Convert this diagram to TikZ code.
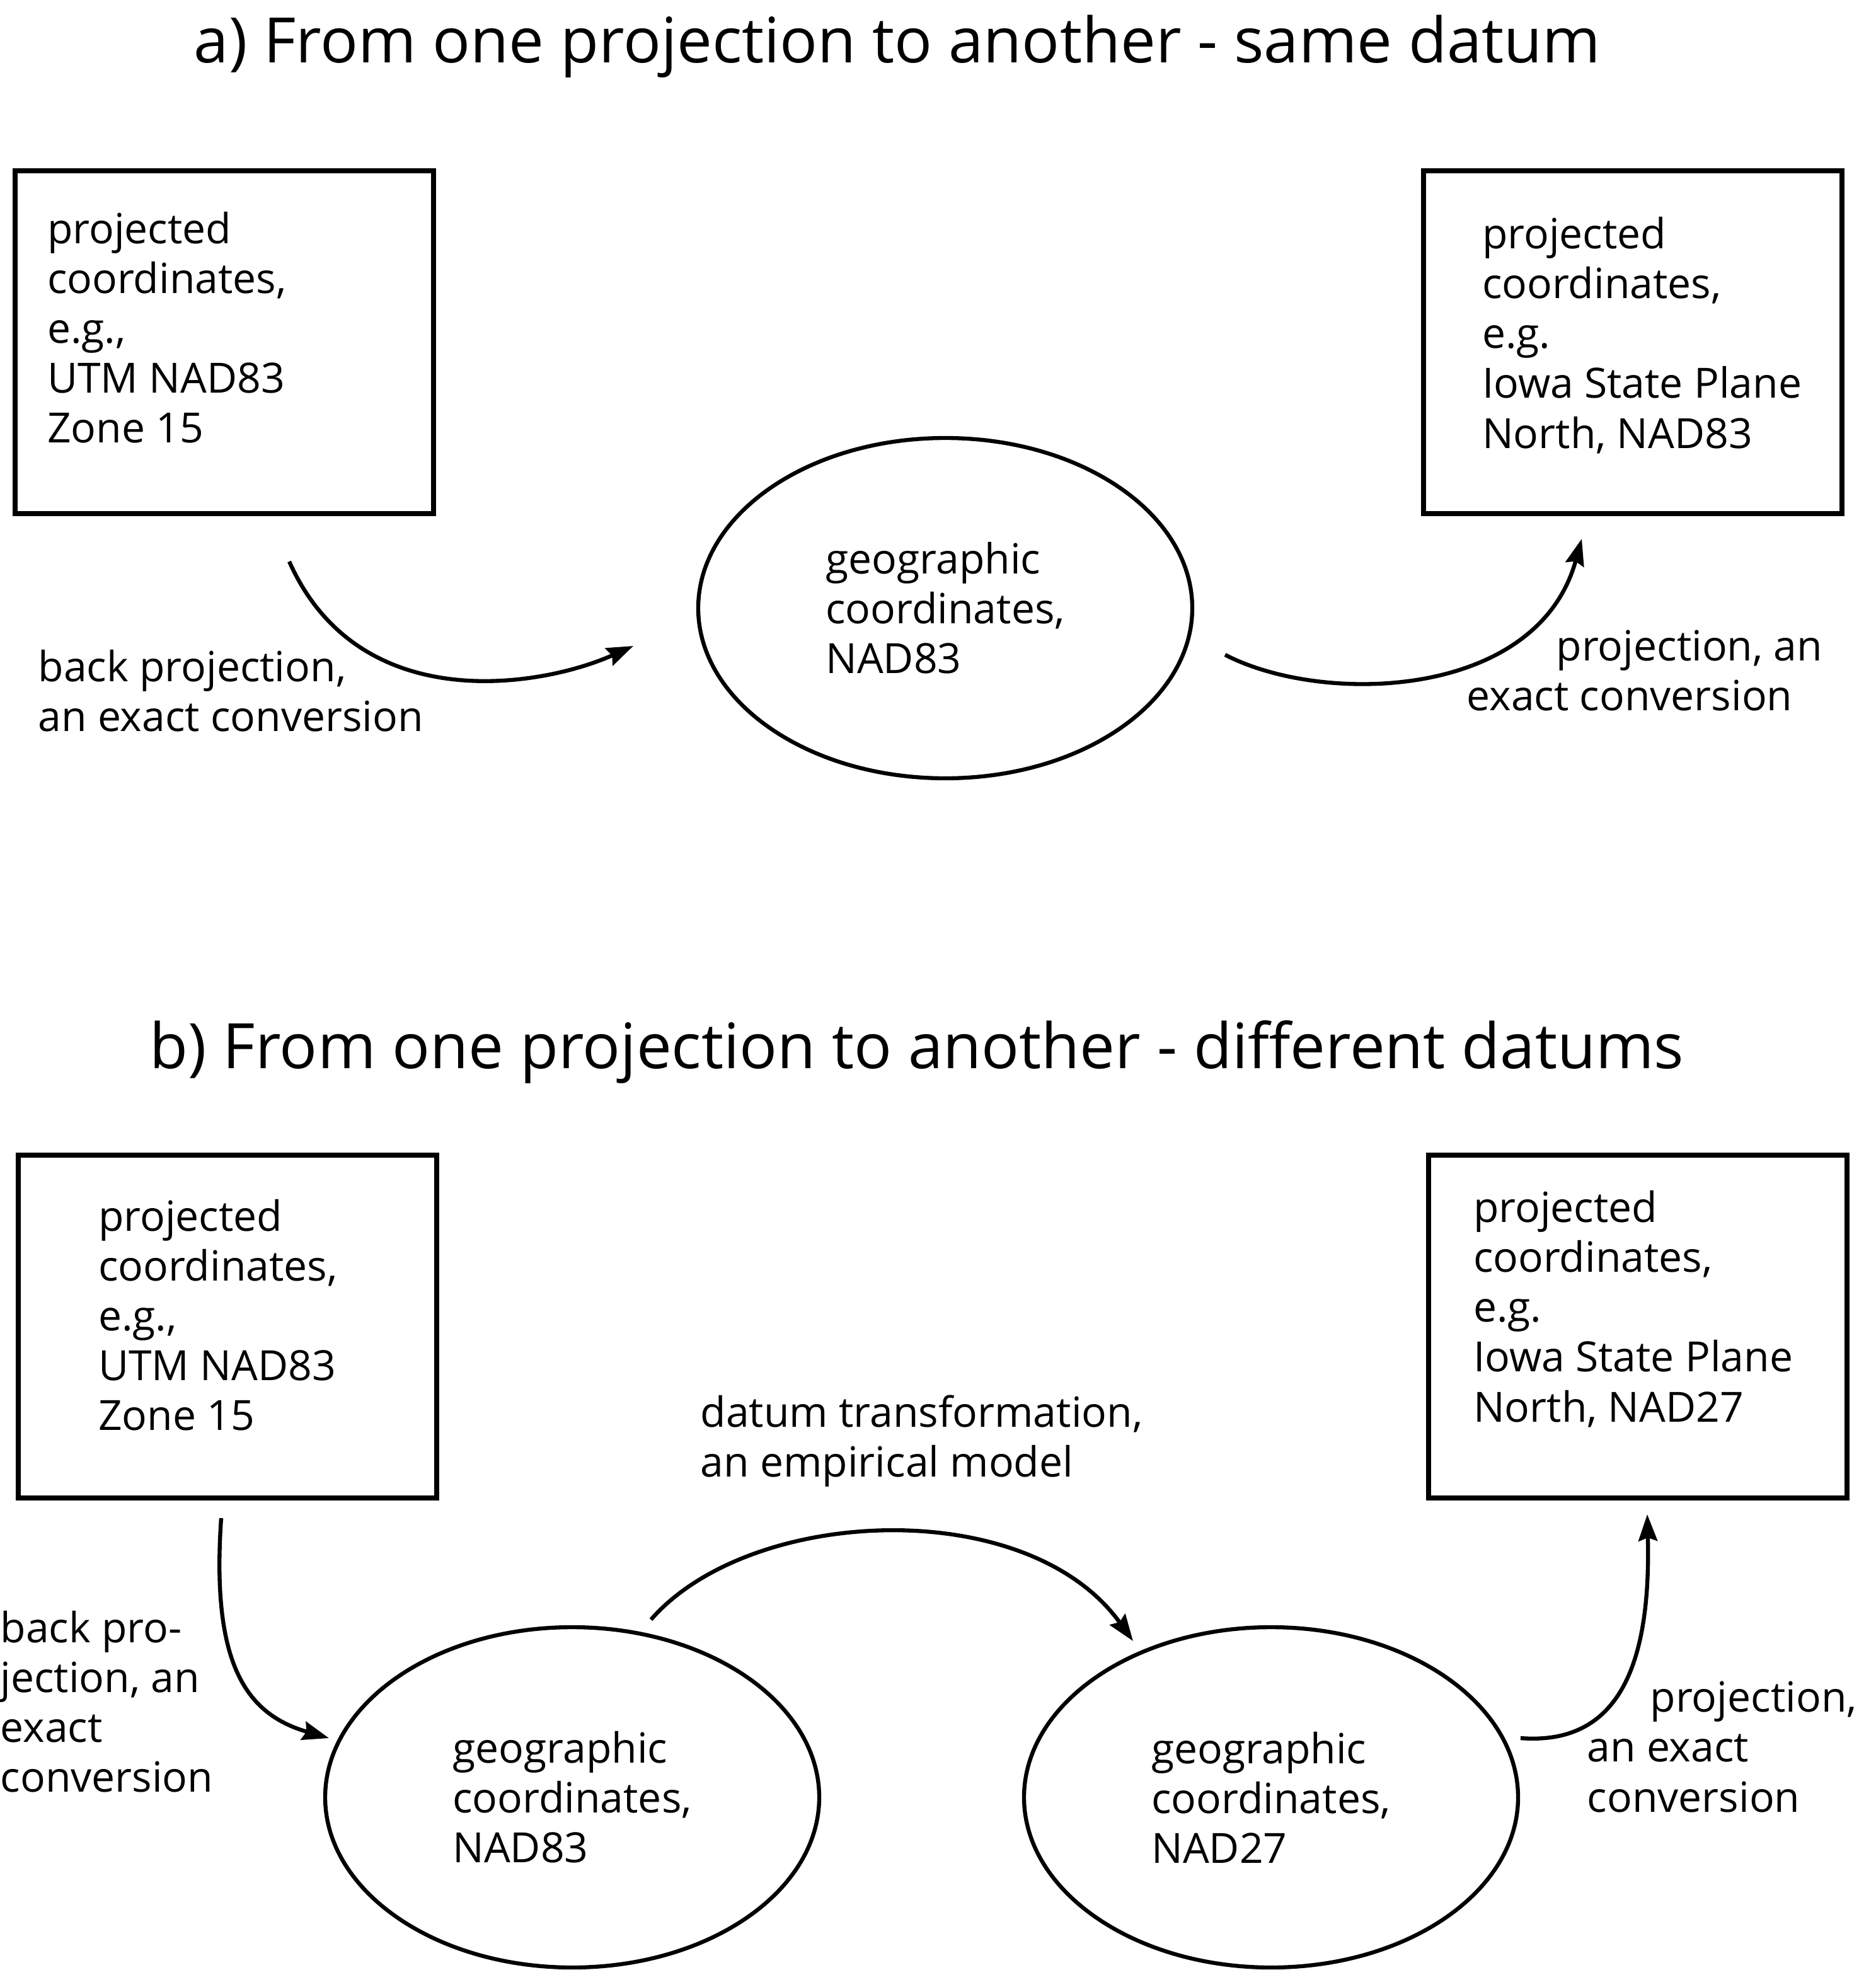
\documentclass[tikz,border=0pt]{standalone}
\usepackage{fontspec}
\setmainfont{Open Sans}
\usetikzlibrary{arrows.meta,calc,positioning,shapes.geometric}

\newcommand{\diagtext}{\fontsize{18.8}{22.5}\selectfont}
\newcommand{\headtext}{\fontsize{28.3}{32}\selectfont}

\begin{document}
\begin{tikzpicture}[
  box/.style={draw,line width=2.1pt,minimum width=6.64cm,minimum height=5.44cm,inner sep=0pt},
  geo/.style={draw,ellipse,line width=1.8pt,minimum width=7.84cm,minimum height=5.40cm,inner sep=0pt,align=left,font=\diagtext},
  txt/.style={align=left,font=\diagtext,inner sep=0pt,anchor=west},
  head/.style={font=\headtext,inner sep=0pt},
  conv/.style={line width=1.8pt,-{Stealth[length=12pt,width=8.5pt,inset=1.5pt]}}
]
  \useasboundingbox (0,0) rectangle (29.77,-31.26);

  % a) same datum
  \node[head] (titleA) at (14.24,-0.74) {a) From one projection to another - same datum};

  \node[box] (utmA) at (3.56,-5.43) {};
  \node[txt] (utmAtext) at ([xshift=0.54cm,yshift=0.23cm]utmA.west)
    {projected\\coordinates,\\e.g.,\\UTM NAD83\\Zone 15};
  \node[box] (spA) at (25.91,-5.43) {};
  \node[txt] (spAtext) at ([xshift=0.96cm,yshift=0.11cm]spA.west)
    {projected\\coordinates,\\e.g.\\Iowa State Plane\\North, NAD83};
  \node[geo] (geoA) at (15.00,-9.65) {geographic\\coordinates,\\NAD83};

  \coordinate (a1s) at (4.59,-8.91);
  \coordinate (a1e) at (10.05,-10.25);
  \coordinate (a2s) at (19.44,-10.39);
  \coordinate (a2e) at (25.10,-8.55);
  \draw[conv] (a1s) .. controls (5.7,-11.4) and (8.6,-10.9) .. (a1e);
  \draw[conv] (a2s) .. controls (21.0,-11.2) and (24.4,-11.1) .. (a2e);

  \node[txt] (backA) at (0.60,-10.96) {back projection,\\an exact conversion};
  \node[txt] (projA) at (23.27,-10.64) {\hspace*{1.42cm}projection, an\\exact conversion};

  % b) different datums
  \node[head] (titleB) at (14.55,-16.69) {b) From one projection to another - different datums};

  \node[box] (utmB) at (3.61,-21.05) {};
  \node[txt] (utmBtext) at ([xshift=1.30cm,yshift=0.18cm]utmB.west)
    {projected\\coordinates,\\e.g.,\\UTM NAD83\\Zone 15};
  \node[box] (spB) at (25.99,-21.05) {};
  \node[txt] (spBtext) at ([xshift=0.74cm,yshift=0.28cm]spB.west)
    {projected\\coordinates,\\e.g.\\Iowa State Plane\\North, NAD27};
  \node[geo] (geo83B) at (9.08,-28.52) {geographic\\coordinates,\\NAD83};
  \node[geo] (geo27B) at (20.17,-28.52) {geographic\\coordinates,\\NAD27};

  \coordinate (b1s) at (3.51,-24.09);
  \coordinate (b1e) at (5.22,-27.58);
  \coordinate (b2s) at (10.33,-25.70);
  \coordinate (b2e) at (17.98,-26.04);
  \coordinate (b3s) at (24.13,-27.58);
  \coordinate (b3e) at (26.14,-24.03);
  \draw[conv] (b1s) .. controls (3.35,-26.4) and (3.9,-27.2) .. (b1e);
  \draw[conv] (b2s) .. controls (11.9,-23.9) and (16.3,-23.7) .. (b2e);
  \draw[conv] (b3s) .. controls (25.7,-27.7) and (26.2,-26.4) .. (b3e);

  \node[txt] (datumB) at (11.11,-22.87) {datum transformation,\\an empirical model};
  \node[txt] (backB) at (0.0,-27.00) {back pro-\\jection, an\\exact\\conversion};
  \node[txt] (projB) at (25.18,-27.72) {\hspace*{1.0cm}projection,\\an exact\\conversion};
\end{tikzpicture}
\end{document}
